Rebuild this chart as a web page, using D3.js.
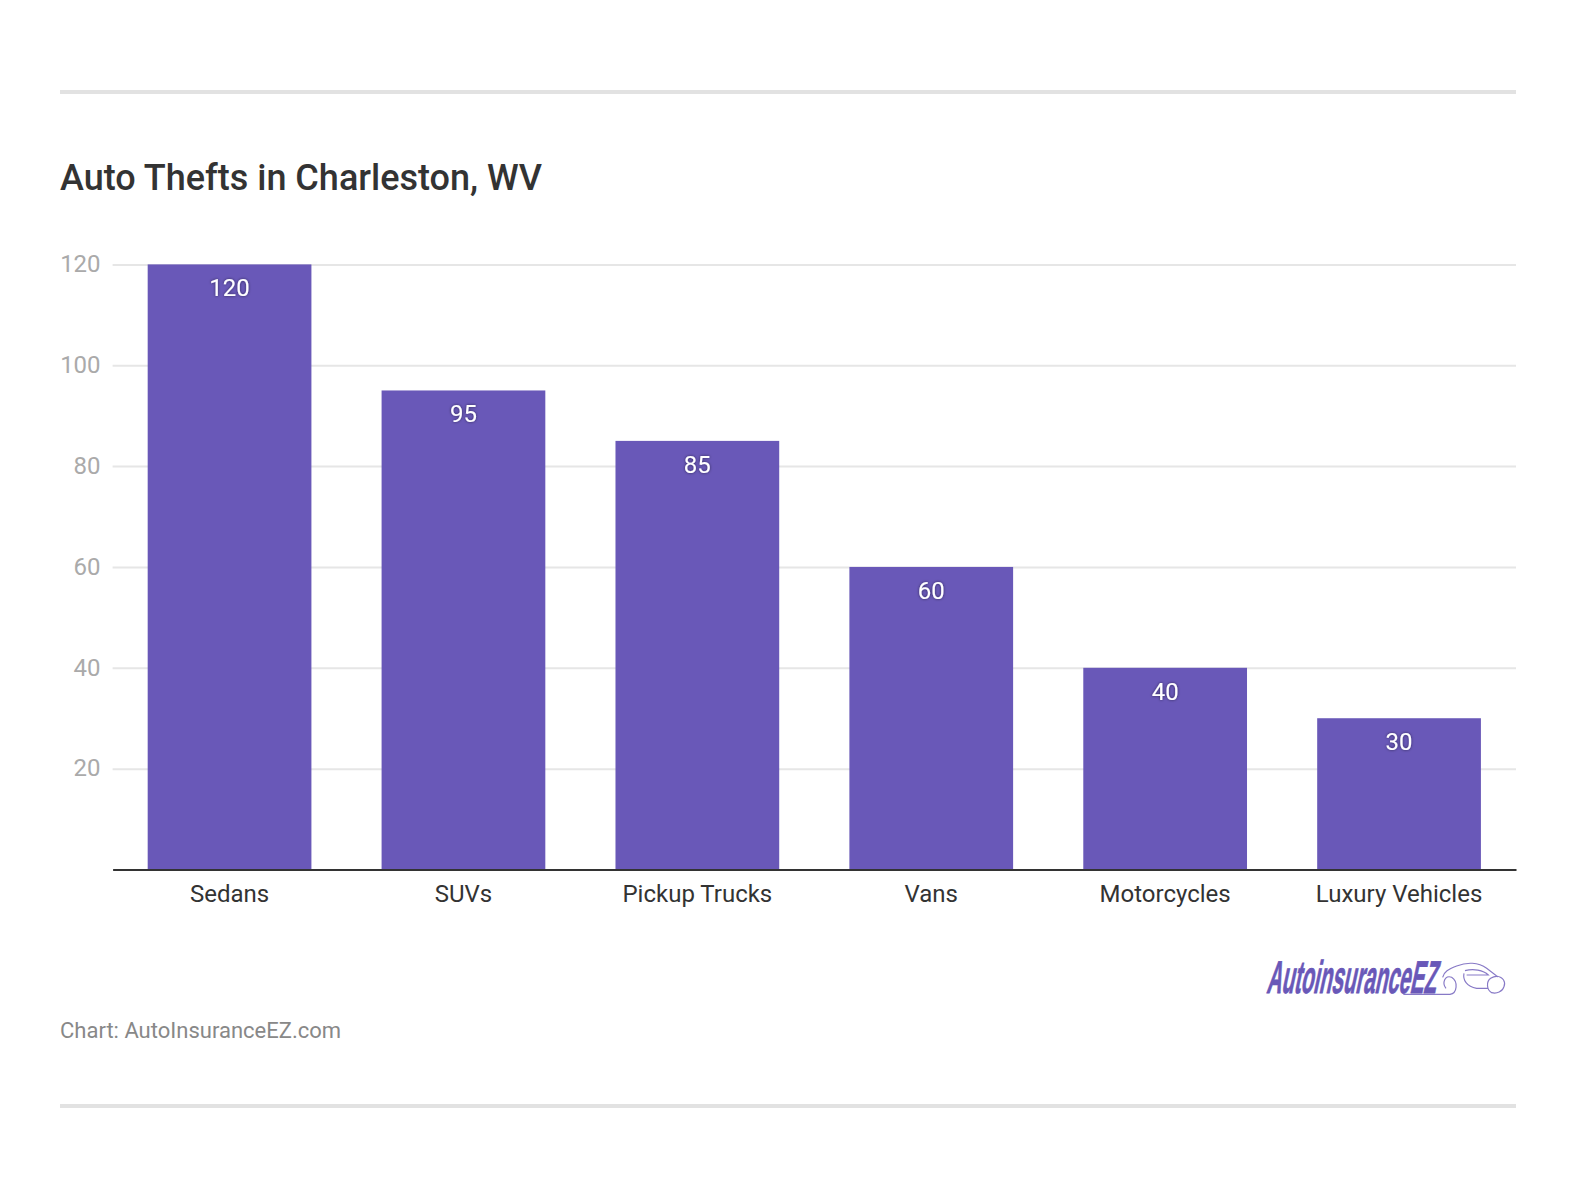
<!DOCTYPE html>
<html>
<head>
    <script src="https://cdnjs.cloudflare.com/ajax/libs/d3/7.8.5/d3.min.js"></script>
    <style>
        html, body { margin: 0; padding: 0; background: #fff; }
        svg { display: block; font-family: Roboto, sans-serif; }
        .grid line { stroke: #e6e6e6; stroke-width: 2px; }
        .grid path { display: none; }
        .y-axis path, .y-axis line { display: none; }
        .y-axis text { fill: #aaaaaa; font-family: Roboto, sans-serif; font-size: 24px; }
        .x-axis line { display: none; }
        .x-axis path { stroke: #333333; stroke-width: 2px; }
        .x-axis text { fill: #333333; font-family: Roboto, sans-serif; font-size: 24px; }
    </style>
</head>
<body>
    <svg id="chart" width="1576" height="1188"></svg>
    <script>
        const categories = ["Sedans", "SUVs", "Pickup Trucks", "Vans", "Motorcycles", "Luxury Vehicles"];
        const thefts = [120, 95, 85, 60, 40, 30];
        const yTicks = [20, 40, 60, 80, 100, 120];

        const svg = d3.select("#chart");

        const xScale = d3.scaleBand()
            .domain(categories)
            .range([112.6, 1516])
            .paddingInner(0.3)
            .paddingOuter(0.15);

        const yScale = d3.scaleLinear()
            .domain([0, 120])
            .range([869.5, 264.4]);

        // drop shadow behind the value labels
        const defs = svg.append("defs");
        defs.append("filter")
            .attr("id", "label-shadow")
            .attr("x", "-30%").attr("y", "-30%")
            .attr("width", "160%").attr("height", "160%")
            .append("feDropShadow")
            .attr("dx", 0).attr("dy", 0)
            .attr("stdDeviation", 1.5)
            .attr("flood-color", "#000")
            .attr("flood-opacity", 0.55);

        // top and bottom rules
        svg.selectAll(".rule")
            .data([92, 1106])
            .join("line")
            .attr("class", "rule")
            .attr("x1", 60).attr("x2", 1516)
            .attr("y1", d => d).attr("y2", d => d)
            .attr("stroke", "#e2e2e2")
            .attr("stroke-width", 4);

        svg.append("text")
            .attr("x", 60).attr("y", 190)
            .attr("fill", "#333333")
            .style("font-size", "36px")
            .style("font-weight", 500)
            .text("Auto Thefts in Charleston, WV");

        // grid lines
        svg.append("g")
            .attr("class", "grid")
            .attr("transform", "translate(112.6,0)")
            .call(d3.axisLeft(yScale).tickValues(yTicks).tickSize(-1403.4).tickFormat(""));

        // y axis labels
        svg.append("g")
            .attr("class", "y-axis")
            .attr("transform", "translate(112.6,-0.4)")
            .call(d3.axisLeft(yScale).tickValues(yTicks).tickSize(0).tickPadding(12));

        // bars
        svg.selectAll(".bar")
            .data(thefts)
            .join("rect")
            .attr("class", "bar")
            .attr("x", (d, i) => xScale(categories[i]))
            .attr("y", d => yScale(d))
            .attr("width", xScale.bandwidth())
            .attr("height", d => yScale(0) - yScale(d))
            .attr("fill", "#6958b8");

        // value labels
        svg.selectAll(".value")
            .data(thefts)
            .join("text")
            .attr("class", "value")
            .attr("x", (d, i) => xScale(categories[i]) + xScale.bandwidth() / 2)
            .attr("y", d => yScale(d) + 32)
            .attr("text-anchor", "middle")
            .attr("fill", "#ffffff")
            .attr("filter", "url(#label-shadow)")
            .style("font-size", "24px")
            .text(d => d);

        // x axis
        svg.append("g")
            .attr("class", "x-axis")
            .attr("transform", "translate(0,869.5)")
            .call(d3.axisBottom(xScale).tickSize(0).tickSizeOuter(0).tickPadding(15));

        svg.append("text")
            .attr("x", 60).attr("y", 1038)
            .attr("fill", "#888888")
            .style("font-size", "22px")
            .text("Chart: AutoInsuranceEZ.com");

        // logo, wordmark plus a rough car outline
        const logo = svg.append("g").attr("class", "logo");
        logo.append("text")
            .attr("transform", "translate(1266,993) skewX(-12) scale(0.445,1)")
            .attr("fill", "#6958b8")
            .attr("stroke", "#6958b8")
            .attr("stroke-width", 0.8)
            .style("font-size", "46px")
            .style("font-weight", 700)
            .style("font-family", "'Liberation Sans', sans-serif")
            .text("AutoinsuranceEZ");
        logo.append("path")
            .attr("transform", "translate(1240,940) scale(0.3333)")
            .attr("d", "M490 163 H630 C652 160 655 125 635 112 C615 103 605 130 618 145 M608 112 C612 95 625 88 650 78 C680 66 715 66 740 85 L770 108 C790 112 798 125 792 140 C788 155 770 162 755 158 C740 150 738 125 752 115 C760 110 770 108 775 110 M675 92 C700 85 730 90 745 105 L680 105 M672 100 C668 120 680 140 710 145 L745 145")
            .attr("fill", "none")
            .attr("stroke", "#6958b8")
            .attr("stroke-width", 3.5)
            .attr("opacity", 0.8);
    </script>
</body>
</html>
